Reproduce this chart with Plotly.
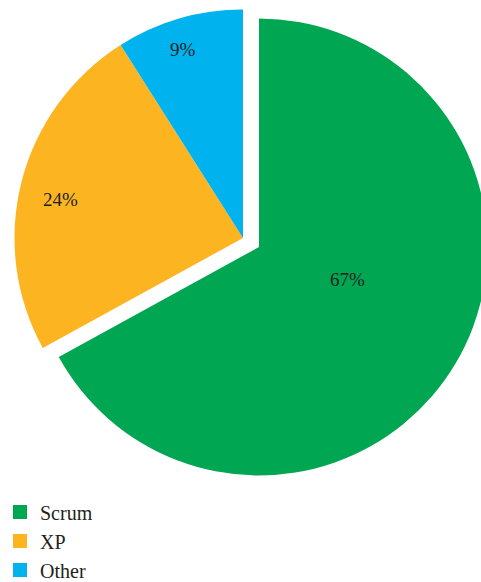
import plotly.graph_objects as go

# Agile methods in use (percent of respondents)
methods = ["Scrum", "XP", "Other"]
shares = [67, 24, 9]
slice_colors = ["#00A651", "#FCB421", "#00B2EE"]

TEXT_COLOR = "#231F20"
FONT = "Liberation Serif"
CLEAR = "rgba(0,0,0,0)"

# canvas and pie geometry (pixels); the Scrum slice sits pulled away from the rest
W, H = 490, 600
R = 228.5
CENTER_REST = (243, 238)
CENTER_PULLED = (259, 247)
LABEL_XY = [(347, 279), (60, 199), (182.5, 49.5)]


def pie_domain(cx, cy, r):
    return dict(x=[(cx - r) / W, (cx + r) / W],
                y=[1 - (cy + r) / H, 1 - (cy - r) / H])


fig = go.Figure()

# XP and Other at rest position
fig.add_trace(go.Pie(
    labels=methods, values=shares, sort=False, direction="clockwise", rotation=0,
    marker=dict(colors=[CLEAR, slice_colors[1], slice_colors[2]], line=dict(width=0)),
    textinfo="none", hoverinfo="label+percent", showlegend=False,
    domain=pie_domain(*CENTER_REST, R),
))

# Scrum, exploded outwards along its bisector
fig.add_trace(go.Pie(
    labels=methods, values=shares, sort=False, direction="clockwise", rotation=0,
    marker=dict(colors=[slice_colors[0], CLEAR, CLEAR], line=dict(width=0)),
    textinfo="none", hoverinfo="label+percent", showlegend=False,
    domain=pie_domain(*CENTER_PULLED, R),
))

# legend entries
for name, col in zip(methods, slice_colors):
    fig.add_trace(go.Scatter(
        x=[None], y=[None], mode="markers", name=name,
        marker=dict(symbol="square", size=14, color=col),
        showlegend=True, hoverinfo="skip",
    ))

total = sum(shares)
for v, (px, py) in zip(shares, LABEL_XY):
    fig.add_annotation(
        x=px / W, y=1 - py / H, xref="paper", yref="paper",
        text=f"{round(v / total * 100)}%", showarrow=False,
        xanchor="center", yanchor="middle",
        font=dict(family=FONT, size=19, color=TEXT_COLOR),
    )

fig.update_layout(
    width=W, height=H, autosize=False,
    margin=dict(l=0, r=0, t=0, b=0),
    paper_bgcolor="white", plot_bgcolor="white",
    xaxis=dict(visible=False), yaxis=dict(visible=False),
    legend=dict(
        x=0, y=1 - 541 / H, xanchor="left", yanchor="middle",
        font=dict(family=FONT, size=20, color=TEXT_COLOR),
        bgcolor=CLEAR, borderwidth=0,
    ),
    font=dict(family=FONT, color=TEXT_COLOR),
)

fig.write_html(
    "out.html",
    config={"displayModeBar": False},
    post_script="document.documentElement.style.overflow='hidden';"
                "document.body.style.overflow='hidden';",
)
